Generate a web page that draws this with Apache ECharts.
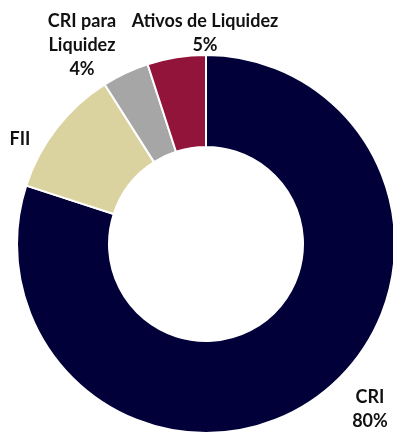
<!DOCTYPE html>
<html>
<head>
<meta charset="utf-8">
<style>
  html, body { margin: 0; padding: 0; background: #ffffff; }
  #chart { width: 393px; height: 436px; }
</style>
<script src="https://cdn.jsdelivr.net/npm/echarts@6/dist/echarts.min.js"></script>
</head>
<body>
<div id="chart"></div>
<script>
// Portfolio allocation (% of total)
const categories = ['CRI', 'FII', 'CRI para\nLiquidez', 'Ativos de Liquidez'];
const shares = [80, 11, 4, 5];
const showPercent = [true, false, true, true];
const sliceColors = ['#020038', '#DBD39F', '#A6A6A6', '#92143A'];

// Label anchor points (centre of each text block), by slice
const labelSpots = [
  [370, 409],
  [20, 139],
  [82, 45],
  [205, 33]
];

const chart = echarts.init(document.getElementById('chart'), null, { renderer: 'canvas' });

chart.setOption({
  animation: false,
  series: [{
    type: 'pie',
    center: [206, 244],
    radius: [97, 189],
    startAngle: 90,
    clockwise: true,
    avoidLabelOverlap: false,
    itemStyle: { borderColor: '#ffffff', borderWidth: 2 },
    label: {
      show: true,
      position: 'outside',
      color: '#111111',
      fontFamily: 'Lato',
      fontWeight: 'bold',
      fontSize: 18,
      lineHeight: 24,
      align: 'center',
      formatter: function (p) {
        return showPercent[p.dataIndex] ? p.name + '\n' + p.value + '%' : p.name;
      }
    },
    labelLine: { show: false },
    labelLayout: function (p) {
      const s = labelSpots[p.dataIndex];
      return { x: s[0], y: s[1], align: 'center', verticalAlign: 'middle' };
    },
    data: categories.map(function (name, i) {
      return { name: name, value: shares[i], itemStyle: { color: sliceColors[i] } };
    })
  }]
});
</script>
</body>
</html>
